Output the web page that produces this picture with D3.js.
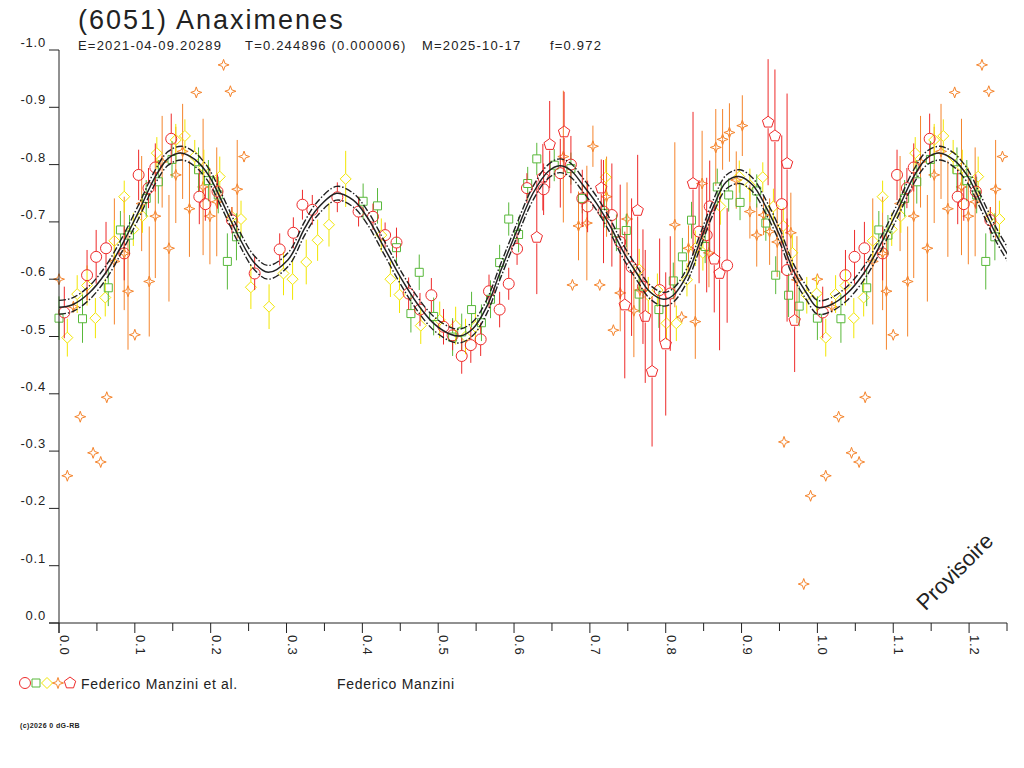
<!DOCTYPE html>
<html>
<head>
<meta charset="utf-8">
<script src="https://cdn.jsdelivr.net/npm/d3@7"></script>
<style>
body { margin: 0; background: #fff; }
text { font-family: "Liberation Sans", Arial, sans-serif; fill: #222; }
</style>
</head>
<body>
<div id="playground"></div>
<script>
/* folded lightcurve, (6051) Anaximenes */
var width = 1024,
    height = 768,
    ground, group;

// [phase, magnitude, error]
var redCircles = [
    [0.007, -0.542, 0.045], [0.037, -0.607, 0.044], [0.049, -0.639, 0.047], [0.062, -0.654, 0.046],
    [0.086, -0.645, 0.047], [0.105, -0.782, 0.044], [0.118, -0.759, 0.035], [0.127, -0.795, 0.042],
    [0.148, -0.845, 0.044], [0.185, -0.744, 0.048], [0.193, -0.731, 0.029], [0.209, -0.753, 0.030],
    [0.228, -0.703, 0.023], [0.258, -0.610, 0.029], [0.291, -0.652, 0.028], [0.309, -0.681, 0.027],
    [0.321, -0.730, 0.026], [0.334, -0.721, 0.026], [0.367, -0.743, 0.026], [0.395, -0.718, 0.026],
    [0.414, -0.709, 0.023], [0.430, -0.677, 0.022], [0.445, -0.664, 0.026], [0.461, -0.575, 0.028],
    [0.476, -0.547, 0.029], [0.491, -0.572, 0.030], [0.507, -0.517, 0.031], [0.519, -0.502, 0.026],
    [0.531, -0.466, 0.031], [0.543, -0.485, 0.031], [0.556, -0.495, 0.029], [0.567, -0.579, 0.029],
    [0.581, -0.547, 0.031], [0.593, -0.592, 0.028], [0.604, -0.653, 0.028], [0.617, -0.759, 0.026],
    [0.639, -0.757, 0.045], [0.661, -0.785, 0.060], [0.675, -0.800, 0.050], [0.690, -0.741, 0.050],
    [0.697, -0.727, 0.045], [0.718, -0.718, 0.090], [0.729, -0.712, 0.090], [0.740, -0.665, 0.100],
    [0.755, -0.621, 0.120], [0.770, -0.587, 0.100], [0.792, -0.581, 0.090], [0.806, -0.575, 0.100],
    [0.844, -0.683, 0.090], [0.854, -0.677, 0.100], [0.858, -0.727, 0.080], [0.881, -0.624, 0.100],
    [0.953, -0.731, 0.120], [0.960, -0.616, 0.090]
];
var greenSquares = [
    [0.000, -0.532, 0.038], [0.031, -0.531, 0.042], [0.065, -0.585, 0.032], [0.081, -0.686, 0.033],
    [0.093, -0.677, 0.035], [0.115, -0.741, 0.032], [0.131, -0.770, 0.038], [0.149, -0.809, 0.032],
    [0.184, -0.791, 0.039], [0.197, -0.772, 0.036], [0.210, -0.747, 0.032], [0.222, -0.631, 0.049],
    [0.234, -0.674, 0.041], [0.401, -0.736, 0.031], [0.420, -0.728, 0.031], [0.445, -0.655, 0.032],
    [0.464, -0.540, 0.033], [0.475, -0.612, 0.031], [0.494, -0.535, 0.033], [0.519, -0.499, 0.033],
    [0.531, -0.508, 0.032], [0.544, -0.547, 0.031], [0.557, -0.524, 0.032], [0.569, -0.565, 0.033],
    [0.581, -0.629, 0.031], [0.593, -0.705, 0.029], [0.606, -0.678, 0.031], [0.618, -0.767, 0.029],
    [0.630, -0.810, 0.028], [0.653, -0.799, 0.028], [0.675, -0.793, 0.028], [0.690, -0.741, 0.026],
    [0.719, -0.715, 0.025], [0.735, -0.681, 0.032], [0.748, -0.685, 0.029], [0.765, -0.574, 0.032],
    [0.791, -0.547, 0.032], [0.810, -0.597, 0.032], [0.822, -0.639, 0.033], [0.834, -0.703, 0.032],
    [0.852, -0.657, 0.029], [0.868, -0.761, 0.032], [0.883, -0.747, 0.029], [0.898, -0.734, 0.031],
    [0.920, -0.754, 0.029], [0.932, -0.698, 0.031], [0.945, -0.607, 0.033], [0.962, -0.572, 0.038],
    [0.976, -0.553, 0.035]
];
var yellowDiamonds = [
    [0.011, -0.498, 0.033], [0.024, -0.574, 0.033], [0.037, -0.589, 0.035], [0.048, -0.532, 0.035],
    [0.061, -0.568, 0.033], [0.073, -0.667, 0.036], [0.086, -0.744, 0.028], [0.098, -0.687, 0.029],
    [0.110, -0.710, 0.029], [0.129, -0.820, 0.028], [0.154, -0.843, 0.028], [0.166, -0.850, 0.029],
    [0.179, -0.814, 0.029], [0.191, -0.795, 0.031], [0.212, -0.779, 0.035], [0.228, -0.709, 0.017],
    [0.240, -0.705, 0.032], [0.253, -0.586, 0.038], [0.277, -0.552, 0.039], [0.296, -0.610, 0.038],
    [0.308, -0.600, 0.036], [0.326, -0.630, 0.039], [0.341, -0.668, 0.036], [0.356, -0.695, 0.038],
    [0.378, -0.775, 0.049], [0.425, -0.677, 0.029], [0.437, -0.600, 0.031], [0.449, -0.573, 0.032],
    [0.477, -0.519, 0.032], [0.502, -0.529, 0.032], [0.523, -0.519, 0.033], [0.536, -0.500, 0.031],
    [0.549, -0.517, 0.028], [0.721, -0.778, 0.032], [0.765, -0.617, 0.036], [0.777, -0.572, 0.032],
    [0.789, -0.581, 0.029], [0.801, -0.523, 0.029], [0.814, -0.523, 0.031], [0.828, -0.599, 0.029],
    [0.839, -0.654, 0.031], [0.849, -0.646, 0.031], [0.872, -0.727, 0.032], [0.897, -0.779, 0.028],
    [0.911, -0.764, 0.029], [0.928, -0.778, 0.026], [0.942, -0.727, 0.031], [0.955, -0.693, 0.032],
    [0.967, -0.646, 0.032], [0.986, -0.572, 0.032], [0.999, -0.575, 0.031]
];
var orangeStars = [
    [0.000, -0.600, 0], [0.011, -0.257, 0], [0.019, -0.552, 0.010], [0.028, -0.360, 0],
    [0.045, -0.297, 0], [0.055, -0.281, 0], [0.063, -0.394, 0], [0.073, -0.631, 0.110],
    [0.086, -0.645, 0.099], [0.091, -0.579, 0.102], [0.100, -0.503, 0], [0.109, -0.732, 0.083],
    [0.119, -0.596, 0.096], [0.127, -0.710, 0.108], [0.136, -0.805, 0.080], [0.145, -0.654, 0.093],
    [0.154, -0.782, 0.084], [0.163, -0.823, 0.083], [0.172, -0.723, 0.084], [0.181, -0.926, 0],
    [0.190, -0.761, 0.119], [0.199, -0.710, 0.084], [0.208, -0.735, 0.095], [0.217, -0.974, 0],
    [0.226, -0.928, 0], [0.235, -0.757, 0.086], [0.244, -0.814, 0],
    [0.665, -0.814, 0.115], [0.677, -0.590, 0], [0.685, -0.693, 0.060], [0.696, -0.698, 0.100],
    [0.704, -0.832, 0.036], [0.713, -0.590, 0], [0.722, -0.744, 0.070], [0.731, -0.511, 0],
    [0.740, -0.576, 0.067], [0.749, -0.705, 0.064], [0.758, -0.545, 0.081], [0.766, -0.581, 0.040],
    [0.812, -0.695, 0.144], [0.821, -0.534, 0], [0.830, -0.654, 0.040], [0.839, -0.526, 0.065],
    [0.848, -0.767, 0.092], [0.857, -0.646, 0.060], [0.866, -0.830, 0.067], [0.875, -0.844, 0.053],
    [0.884, -0.856, 0.051], [0.893, -0.773, 0.050], [0.901, -0.868, 0.053], [0.911, -0.718, 0.047],
    [0.920, -0.677, 0.055], [0.929, -0.712, 0.035], [0.937, -0.683, 0.058], [0.947, -0.665, 0.061],
    [0.956, -0.316, 0], [0.965, -0.681, 0.070], [0.973, -0.599, 0.076], [0.982, -0.068, 0],
    [0.991, -0.222, 0]
];
var redPentagons = [
    [0.630, -0.673, 0.099], [0.638, -0.778, 0.058], [0.647, -0.835, 0.076], [0.666, -0.857, 0.070],
    [0.715, -0.759, 0.050], [0.746, -0.555, 0.128], [0.763, -0.720, 0.097], [0.773, -0.535, 0.116],
    [0.782, -0.439, 0.131], [0.800, -0.487, 0.125], [0.836, -0.767, 0.125], [0.864, -0.635, 0.093],
    [0.871, -0.610, 0.134], [0.935, -0.874, 0.110], [0.944, -0.850, 0.116], [0.960, -0.802, 0.122],
    [0.970, -0.528, 0.090]
];

// fitted curve over one cycle
var fitPhase = [0.000, 0.017, 0.039, 0.061, 0.083, 0.105, 0.127, 0.144, 0.162, 0.179, 0.197, 0.214,
    0.236, 0.258, 0.276, 0.302, 0.324, 0.340, 0.366, 0.388, 0.406, 0.428, 0.450, 0.472, 0.494,
    0.516, 0.529, 0.546, 0.564, 0.581, 0.604, 0.625, 0.645, 0.660, 0.674, 0.691, 0.709, 0.727,
    0.744, 0.762, 0.779, 0.797, 0.810, 0.828, 0.845, 0.863, 0.880, 0.898, 0.915, 0.933, 0.951,
    0.968, 0.986];
var fitMag = [-0.551, -0.555, -0.575, -0.610, -0.660, -0.718, -0.779, -0.811, -0.820, -0.809, -0.782, -0.738,
    -0.677, -0.628, -0.612, -0.634, -0.689, -0.722, -0.750, -0.738, -0.709, -0.657, -0.604, -0.558, -0.523,
    -0.504, -0.501, -0.514, -0.552, -0.610, -0.686, -0.750, -0.788, -0.798, -0.791, -0.764, -0.732, -0.692,
    -0.648, -0.610, -0.578, -0.565, -0.572, -0.607, -0.665, -0.727, -0.770, -0.779, -0.764, -0.724, -0.674,
    -0.616, -0.575];
var fitSigma = 0.012;

var xTickLabels = ['0.0', '0.1', '0.2', '0.3', '0.4', '0.5', '0.6', '0.7', '0.8', '0.9', '1.0', '1.1', '1.2'];
var xMinorTicks = [0.05, 0.15, 0.25, 0.35, 0.45, 0.55, 0.65, 0.75, 0.85, 0.95, 1.05, 1.15, 1.25];
var yTickLabels = ['0.0', '-0.1', '-0.2', '-0.3', '-0.4', '-0.5', '-0.6', '-0.7', '-0.8', '-0.9', '-1.0'];
var headerItems = ['E=2021-04-09.20289', 'T=0.244896 (0.000006)', 'M=2025-10-17', 'f=0.972'];

var RED = '#ee2a2a', GREEN = '#58b83a', YELLOW = '#f2e600', ORANGE = '#f5842c', INK = '#222';

var x = d3.scaleLinear().domain([0, 1.25]).range([59, 1007]);
var y = d3.scaleLinear().domain([0, -1]).range([623, 50]);

ground = d3.select('#playground')
    .append('svg')
    .attr('width', width)
    .attr('height', height);

function nugroup() {
    group = ground.append('g');
    return group;
}

// points before phase 0.25 are shown again one cycle later
function fold(list) {
    var out = list.slice();
    list.forEach(function (d) {
        if (d[0] < 0.25) { out.push([d[0] + 1, d[1], d[2]]); }
    });
    return out;
}

// shape paths centred on 0,0
var shapes = {
    circle: function () { return 'M5.5,0A5.5,5.5 0 1,1 -5.5,0A5.5,5.5 0 1,1 5.5,0Z'; },
    square: function () { return 'M-4,-4H4V4H-4Z'; },
    diamond: function () { return 'M0,-5.5L5.5,0L0,5.5L-5.5,0Z'; },
    star: function () { return 'M0,-5.5L1.4,-1.4L5.5,0L1.4,1.4L0,5.5L-1.4,1.4L-5.5,0L-1.4,-1.4Z'; },
    pentagon: function () {
        var r = 6, pts = d3.range(5).map(function (i) {
            var a = -Math.PI / 2 + i * 2 * Math.PI / 5;
            return [r * Math.cos(a), r * Math.sin(a)];
        });
        return 'M' + pts.join('L') + 'Z';
    }
};
var gap = { circle: 5.5, square: 4, diamond: 5.5, star: 0, pentagon: 6 };

function series(list, color, shape) {
    var g = nugroup(), data = fold(list).filter(function (d) { return d[0] <= 1.25; }),
        bars = data.filter(function (d) { return d[2] > 0; });

    // error bars, broken at the marker
    g.selectAll('line.up').data(bars).enter()
        .append('line')
        .attr('x1', function (d) { return x(d[0]); })
        .attr('x2', function (d) { return x(d[0]); })
        .attr('y1', function (d) { return y(d[1] - d[2]); })
        .attr('y2', function (d) { return y(d[1]) - gap[shape]; })
        .attr('stroke', color);
    g.selectAll('line.dn').data(bars).enter()
        .append('line')
        .attr('x1', function (d) { return x(d[0]); })
        .attr('x2', function (d) { return x(d[0]); })
        .attr('y1', function (d) { return y(d[1]) + gap[shape]; })
        .attr('y2', function (d) { return y(d[1] + d[2]); })
        .attr('stroke', color);

    g.selectAll('path').data(data).enter()
        .append('path')
        .attr('d', shapes[shape]())
        .attr('transform', function (d) { return 'translate(' + x(d[0]) + ',' + y(d[1]) + ')'; })
        .attr('fill', 'none')
        .attr('stroke', color)
        .attr('stroke-width', 1);
}

series(orangeStars, ORANGE, 'star');
series(yellowDiamonds, YELLOW, 'diamond');
series(greenSquares, GREEN, 'square');
series(redPentagons, RED, 'pentagon');
series(redCircles, RED, 'circle');

// fit and its envelope
(function () {
    var g = nugroup(), pts = [], i, c;
    for (i = 0; i < fitPhase.length; i++) { pts.push([fitPhase[i], fitMag[i]]); }
    for (i = 0; i < fitPhase.length && fitPhase[i] <= 0.27; i++) { pts.push([fitPhase[i] + 1, fitMag[i]]); }

    function curve(off) {
        return d3.line()
            .x(function (d) { return x(d[0]); })
            .y(function (d) { return y(d[1] + off); })
            .curve(d3.curveCatmullRom)(pts);
    }
    g.append('clipPath').attr('id', 'plotclip')
        .append('rect').attr('x', 59).attr('y', 40).attr('width', 948).attr('height', 590);
    c = g.append('g').attr('clip-path', 'url(#plotclip)');
    c.append('path').attr('d', curve(0)).attr('fill', 'none').attr('stroke', INK).attr('stroke-width', 1.5);
    [-fitSigma, fitSigma].forEach(function (s) {
        c.append('path').attr('d', curve(s)).attr('fill', 'none').attr('stroke', INK)
            .attr('stroke-width', 1.4).attr('stroke-dasharray', '7,2,1.5,2');
    });
}());

// axes
(function () {
    var g = nugroup();
    g.append('line').attr('x1', 59).attr('x2', 59).attr('y1', y(-1)).attr('y2', y(0) + 10).attr('stroke', INK);
    g.append('line').attr('x1', 49).attr('x2', x(1.25)).attr('y1', y(0)).attr('y2', y(0)).attr('stroke', INK);

    yTickLabels.forEach(function (t) {
        var v = +t;
        g.append('line').attr('x1', 49).attr('x2', 59).attr('y1', y(v)).attr('y2', y(v)).attr('stroke', INK);
        g.append('text').attr('x', 46).attr('y', y(v) - 3).attr('text-anchor', 'end')
            .attr('font-size', 13).attr('letter-spacing', 0.8).text(t);
    });
    xTickLabels.forEach(function (t) {
        var v = +t;
        g.append('line').attr('x1', x(v)).attr('x2', x(v)).attr('y1', y(0)).attr('y2', y(0) + 10).attr('stroke', INK);
        g.append('text').attr('transform', 'translate(' + (x(v) + 1) + ',' + (y(0) + 12) + ') rotate(90)')
            .attr('font-size', 13).attr('letter-spacing', 0.8).text(t);
    });
    xMinorTicks.forEach(function (v) {
        g.append('line').attr('x1', x(v)).attr('x2', x(v)).attr('y1', y(0)).attr('y2', y(0) + 8).attr('stroke', INK);
    });
}());

// titles and legend
(function () {
    var g = nugroup(), legend;
    g.append('text').attr('x', 78).attr('y', 29).attr('font-size', 27).attr('letter-spacing', 2)
        .text('(6051) Anaximenes');
    [78, 245, 422, 550].forEach(function (px, i) {
        g.append('text').attr('x', px).attr('y', 50).attr('font-size', 13).attr('letter-spacing', 1.2)
            .text(headerItems[i]);
    });

    g.append('text').attr('transform', 'translate(960,577) rotate(-45)').attr('text-anchor', 'middle')
        .attr('font-size', 22).text('Provisoire');

    legend = [['circle', RED, 25], ['square', GREEN, 36], ['diamond', YELLOW, 47], ['star', ORANGE, 58], ['pentagon', RED, 70]];
    legend.forEach(function (d) {
        g.append('path').attr('d', shapes[d[0]]()).attr('transform', 'translate(' + d[2] + ',683)')
            .attr('fill', 'none').attr('stroke', d[1]).attr('stroke-width', 1);
    });
    g.append('text').attr('x', 81).attr('y', 689).attr('font-size', 14).attr('letter-spacing', 0.7)
        .text('Federico Manzini et al.');
    g.append('text').attr('x', 337).attr('y', 689).attr('font-size', 14).attr('letter-spacing', 0.7)
        .text('Federico Manzini');
    g.append('text').attr('x', 20).attr('y', 728).attr('font-size', 7).attr('font-weight', 'bold')
        .attr('letter-spacing', 0.4).text('(c)2026 0 dG-RB');
}());
</script>
</body>
</html>
